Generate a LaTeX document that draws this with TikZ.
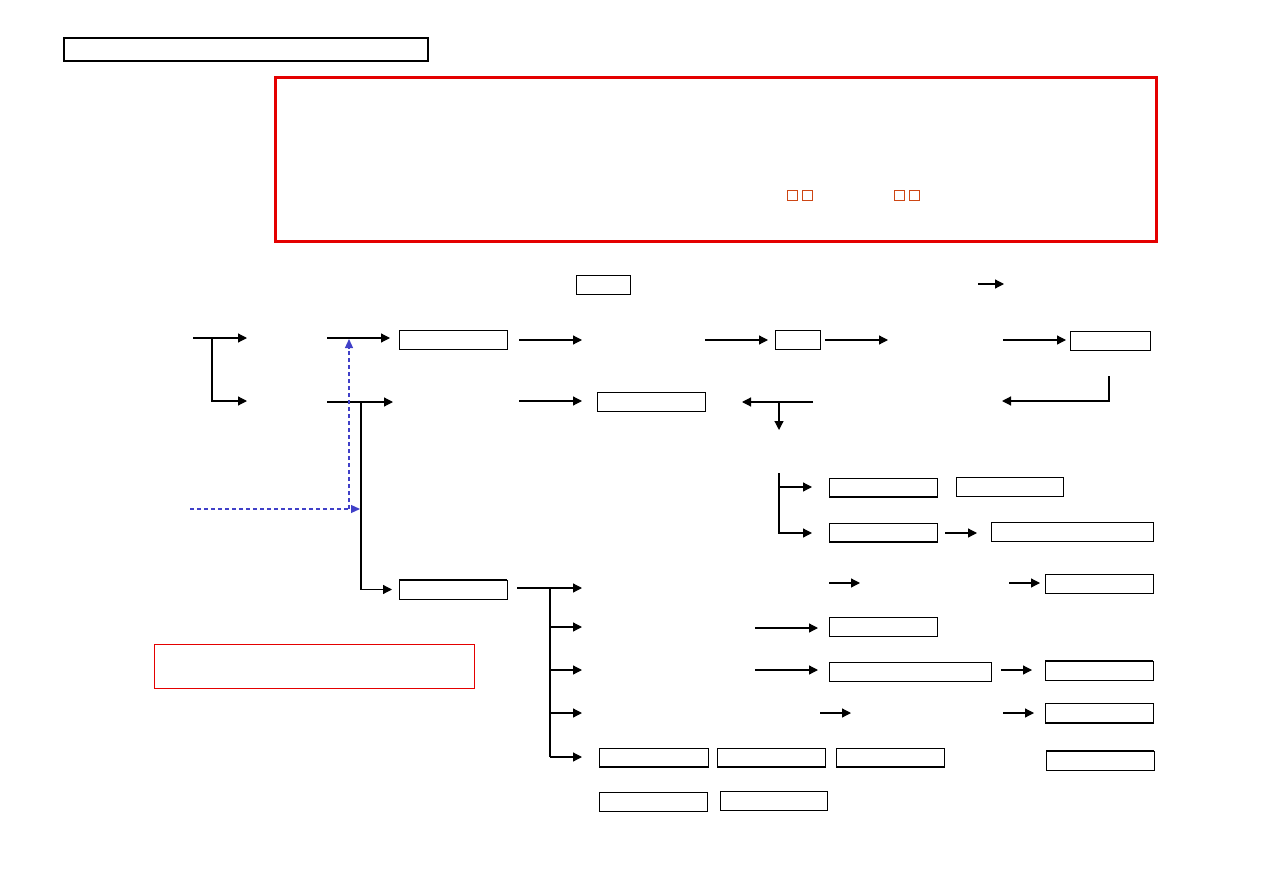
\documentclass[tikz,border=0pt]{standalone}
\usetikzlibrary{arrows.meta,fit}
\definecolor{redline}{RGB}{228,0,0}
\definecolor{dashblue}{RGB}{64,64,200}
\definecolor{tofu}{RGB}{205,70,20}
\tikzset{
  box/.style={draw=black, line width=1pt, inner sep=0pt, outer sep=0pt},
  tofubox/.style={draw=tofu, line width=1pt, inner sep=0pt, outer sep=0pt},
  arr/.style={draw=black, line width=1.2pt, -{Triangle[length=9pt,width=9pt]}},
  ln/.style={draw=black, line width=1.2pt},
  dsh/.style={draw=dashblue, line width=1.2pt, dash pattern=on 4pt off 3pt, -{Triangle[length=9pt,width=8pt]}},
  edge2/.style={draw=black, line width=2pt},
}
\begin{document}
\begin{tikzpicture}[x=1pt,y=-1pt]
\useasboundingbox (0,0) rectangle (1263,893);
% ---------- frames ----------
\node[box, line width=2pt, fit={(64,38) (428,61)}] (title) {};
\node[box, draw=redline, line width=3pt, fit={(275,78) (1156,242)}] (note) {};
\node[box, draw=redline, line width=1pt, fit={(154,644) (474,688)}] (rednote) {};
% missing-glyph boxes inside note
\node[tofubox, fit={(787,191) (797,201)}] (t1) {};
\node[tofubox, fit={(802,191) (812,201)}] (t2) {};
\node[tofubox, fit={(894,191) (904,201)}] (t3) {};
\node[tofubox, fit={(909,191) (919,201)}] (t4) {};
% ---------- boxes ----------
\node[box, fit={(576,276) (630,294)}] (b0) {};
\node[box, fit={(399,330) (507,349)}] (b1) {};
\node[box, fit={(775,330) (820,349)}] (b2) {};
\node[box, fit={(1070,331) (1150,350)}] (b3) {};
\node[box, fit={(597,392) (705,411)}] (b4) {};
\node[box, fit={(399,580) (507,599)}] (b5) {};
\node[box, fit={(829,478) (937,497)}] (c1) {};
\node[box, fit={(956,477) (1063,496)}] (c2) {};
\node[box, fit={(829,523) (937,542)}] (c3) {};
\node[box, fit={(991,522) (1153,541)}] (c4) {};
\node[box, fit={(1045,574) (1153,593)}] (c5) {};
\node[box, fit={(829,617) (937,636)}] (c6) {};
\node[box, fit={(829,662) (991,681)}] (c7) {};
\node[box, fit={(1045,661) (1153,680)}] (c8) {};
\node[box, fit={(1045,703) (1153,723)}] (c9) {};
\node[box, fit={(599,748) (708,767)}] (d1) {};
\node[box, fit={(717,748) (825,767)}] (d2) {};
\node[box, fit={(836,748) (944,767)}] (d3) {};
\node[box, fit={(1046,751) (1154,770)}] (d4) {};
\node[box, fit={(599,792) (707,811)}] (e1) {};
\node[box, fit={(720,791) (827,810)}] (e2) {};
% heavier edges
\draw[edge2] (b5.north west) -- (b5.north east);
\draw[edge2] (c1.south west) -- (c1.south east);
\draw[edge2] (c3.south west) -- (c3.south east);
\draw[edge2] (c8.north west) -- (c8.north east);
\draw[edge2] (c9.south west) -- (c9.south east);
\draw[edge2] (d1.south west) -- (d1.south east);
\draw[edge2] (d2.south west) -- (d2.south east);
\draw[edge2] (d3.south west) -- (d3.south east);
\draw[edge2] (d4.north west) -- (d4.north east);
% ---------- free connector ends ----------
\coordinate (p1) at (193,338); \coordinate (q1) at (247,338);
\coordinate (k1) at (212,338); \coordinate (q2) at (247,401);
\coordinate (p2) at (327,338);
\coordinate (p3) at (519,340); \coordinate (q3) at (582,340);
\coordinate (p4) at (705,340);
\coordinate (q5) at (888,340);
\coordinate (p6) at (1003,340);
\coordinate (p7) at (1109,376); \coordinate (q7) at (1002,401);
\coordinate (p8) at (327,402); \coordinate (q8) at (393,402);
\coordinate (k8) at (361,402);
\coordinate (p9) at (519,401);
\coordinate (p10) at (813,402); \coordinate (q10) at (742,402);
\coordinate (k10) at (779,402); \coordinate (r10) at (779,430);
\coordinate (p11) at (978,284); \coordinate (q11) at (1004,284);
\coordinate (pd1) at (190,509); \coordinate (qd1) at (360,509);
\coordinate (pd2) at (349,509); \coordinate (qd2) at (349,339);
\coordinate (k5) at (550,588);
\coordinate (f1) at (582,588); \coordinate (f2) at (582,627);
\coordinate (f3) at (582,670); \coordinate (f4) at (582,713);
\coordinate (f5) at (582,757);
\coordinate (g0) at (779,473); \coordinate (g1) at (779,487); \coordinate (g2) at (779,533);
\coordinate (h1) at (829,583); \coordinate (h2) at (860,583);
\coordinate (h3) at (1009,583);
\coordinate (h4) at (755,628);
\coordinate (h5) at (755,670);
\coordinate (h6) at (820,713); \coordinate (h7) at (851,713);
\coordinate (h8) at (1003,713);
% ---------- connectors ----------
\draw[arr] (p1) -- (q1);
\draw[arr] (k1) |- (q2);
\draw[arr, shorten >=9pt] (p2) -- (p2 -| b1.west);
\draw[arr] (p3) -- (q3);
\draw[arr, shorten >=7pt] (p4) -- (p4 -| b2.west);
\draw[arr, shorten <=5pt] (b2.east |- q5) -- (q5);
\draw[arr, shorten >=4pt] (p6) -- (p6 -| b3.west);
\draw[arr] (p7) |- (q7);
\draw[arr] (p8) -- (q8);
\draw[arr, shorten >=7pt] (k8) |- (b5.west);
\draw[arr, shorten >=15pt] (p9) -- (p9 -| b4.west);
\draw[arr] (p10) -- (q10);
\draw[arr] (k10) -- (r10);
\draw[arr] (p11) -- (q11);
\draw[dsh] (pd1) -- (qd1);
\draw[dsh] (pd2) -- (qd2);
% branches from b5
\draw[arr, shorten <=10pt] (b5.east |- f1) -- (f1);
\draw[ln] (k5) -- (k5 |- f5);
\draw[arr] (k5 |- f2) -- (f2);
\draw[arr] (k5 |- f3) -- (f3);
\draw[arr] (k5 |- f4) -- (f4);
\draw[arr] (k5 |- f5) -- (f5);
% right-hand branches
\draw[ln] (g0) -- (g1);
\draw[arr, shorten >=17pt] (g1) -- (g1 -| c1.west);
\draw[arr, shorten >=17pt] (g1) |- (c3.west |- g2);
\draw[arr, shorten <=8pt, shorten >=14pt] (c3.east |- g2) -- (c4.west |- g2);
\draw[arr] (h1) -- (h2);
\draw[arr, shorten >=5pt] (h3) -- (h3 -| c5.west);
\draw[arr, shorten >=11pt] (h4) -- (h4 -| c6.west);
\draw[arr, shorten >=11pt] (h5) -- (h5 -| c7.west);
\draw[arr, shorten <=10pt, shorten >=13pt] (c7.east |- h5) -- (c8.west |- h5);
\draw[arr] (h6) -- (h7);
\draw[arr, shorten >=11pt] (h8) -- (h8 -| c9.west);
\end{tikzpicture}
\end{document}
